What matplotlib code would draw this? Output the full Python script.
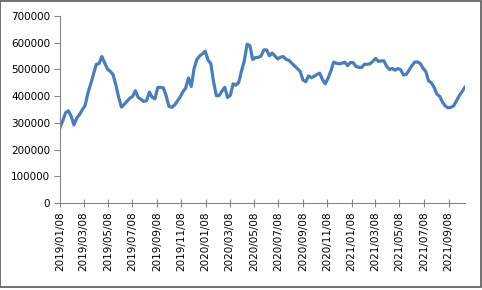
import numpy as np
import pandas as pd
import matplotlib
matplotlib.use("Agg")
import matplotlib.pyplot as plt
import matplotlib.dates as mdates
from matplotlib.patches import Rectangle
from matplotlib.ticker import MultipleLocator

# weekly series, starting 2019/01/08 (in thousands)
start_date = "2019-01-08"
values_k = [
    283, 308, 338, 345, 325, 292, 318, 331, 349, 365,
    412, 446, 483, 519, 522, 548, 524, 501, 493, 480,
    442, 396, 359, 369, 381, 392, 399, 420, 395, 388,
    380, 383, 415, 396, 390, 432, 433, 431, 402, 362,
    358, 366, 381, 396, 416, 430, 468, 436, 502, 537,
    550, 558, 568, 535, 522, 453, 401, 402, 419, 433,
    395, 403, 446, 441, 451, 494, 532, 594, 589, 537,
    544, 545, 550, 573, 573, 551, 561, 550, 539, 546,
    548, 537, 534, 523, 513, 503, 493, 460, 454, 476,
    469, 474, 481, 486, 462, 446, 467, 494, 527, 523,
    521, 523, 527, 514, 526, 525, 511, 508, 507, 519,
    519, 521, 530, 541, 530, 532, 532, 511, 500, 503,
    497, 503, 499, 479, 481, 497, 514, 527, 528, 522,
    505, 492, 457, 450, 432, 407, 399, 377, 363, 356,
    358, 364, 383, 402, 417, 433,
]

dates = pd.date_range(start_date, periods=len(values_k), freq="7D")
values = np.array(values_k) * 1000

fig = plt.figure(figsize=(4.82, 2.90), dpi=100)
ax = fig.add_axes([0.1245, 0.30, 0.840, 0.645])

ax.plot(dates, values, color="#4a7ebb", linewidth=2.3, solid_joinstyle="round")

ax.set_xlim(dates[0], dates[-1])
ax.set_ylim(0, 700000)
ax.yaxis.set_major_locator(MultipleLocator(100000))
ax.xaxis.set_major_locator(mdates.MonthLocator(bymonth=[1, 3, 5, 7, 9, 11], bymonthday=8))
ax.xaxis.set_major_formatter(mdates.DateFormatter("%Y/%m/%d"))

for s in ["top", "right"]:
    ax.spines[s].set_visible(False)
for s in ["left", "bottom"]:
    ax.spines[s].set_color("#868686")
    ax.spines[s].set_linewidth(0.8)

ax.tick_params(axis="both", colors="#868686", labelcolor="black", labelsize=7.5,
               width=0.8)
ax.tick_params(axis="y", direction="out", length=4, pad=3)
ax.tick_params(axis="x", direction="inout", length=6, pad=3)
plt.setp(ax.get_xticklabels(), rotation=90)

# chart border
fig.patches.append(Rectangle((0.001, 0.01), 0.996, 0.987, transform=fig.transFigure,
                             fill=False, edgecolor="#595959", linewidth=1.2))

fig.savefig("out.png", dpi=100)
